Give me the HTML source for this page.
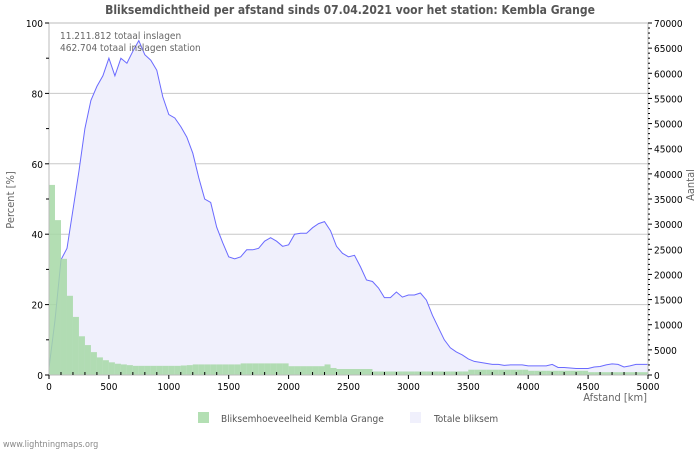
<!DOCTYPE html>
<html><head><meta charset="utf-8"><style>
body{margin:0;background:#fff;width:700px;height:450px;overflow:hidden}
svg{font-family:"DejaVu Sans Condensed","DejaVu Sans","Liberation Sans",sans-serif}
</style></head><body>
<svg id="chart" width="700" height="450" xmlns="http://www.w3.org/2000/svg">
<text x="350" y="14" text-anchor="middle" font-size="12" font-weight="bold" fill="#555">Bliksemdichtheid per afstand sinds 07.04.2021 voor het station: Kembla Grange</text>
<g id="grid"></g>
<g id="area"></g>
<g id="bars"></g>
<g id="axes"></g>
<text x="60" y="39" font-size="10" fill="#666">11.211.812 totaal inslagen</text>
<text x="60" y="51" font-size="10" fill="#666">462.704 totaal inslagen station</text>
<text x="14" y="200" font-size="11" fill="#666" text-anchor="middle" transform="rotate(-90 14 200)">Percent   [%]</text>
<text x="694" y="185" font-size="11" fill="#666" text-anchor="middle" transform="rotate(-90 694 185)">Aantal</text>
<text x="647" y="401" font-size="11" fill="#666" text-anchor="end">Afstand   [km]</text>
<rect x="198" y="412" width="11" height="11" fill="#b3dfb3"/>
<text x="221" y="422" font-size="10" fill="#555">Bliksemhoeveelheid Kembla Grange</text>
<rect x="410" y="412" width="11" height="11" fill="#f0f0fc"/>
<text x="434" y="422" font-size="10" fill="#555">Totale bliksem</text>
<text x="3" y="447" font-size="9" fill="#888">www.lightningmaps.org</text>
</svg>
<script>
const totalCounts=[1400,10900,22900,25200,32900,40600,49000,54600,57400,59500,63000,59500,63000,62000,64400,66500,63700,62600,60600,55300,51800,51100,49400,47300,44100,39200,35000,34300,29400,26300,23500,23100,23500,24900,24900,25200,26600,27300,26600,25600,25900,28000,28200,28200,29300,30100,30500,28700,25600,24200,23500,23800,21500,18900,18600,17300,15400,15400,16500,15500,15900,15900,16300,14900,11900,9400,7000,5400,4600,4000,3200,2700,2500,2300,2100,2100,1900,2000,2000,2000,1800,1800,1800,1800,2100,1500,1500,1400,1300,1300,1300,1600,1700,2000,2200,2100,1600,1800,2100,2100,2100];
const stationPct=[54,44,33,22.5,16.5,11,8.5,6.5,5,4.2,3.6,3.2,3,2.8,2.6,2.6,2.6,2.6,2.6,2.6,2.6,2.6,2.7,2.8,3,3,3,3,3,3,3,3,3.3,3.3,3.3,3.3,3.3,3.3,3.3,3.3,2.5,2.5,2.5,2.5,2.5,2.5,3,2,1.7,1.7,1.7,1.7,1.7,1.7,1,1,1,1,1,1,1,1,1,1,1,1,1,1,1,1,1.5,1.5,1.5,1.5,1.5,1.5,1.5,1.5,1.5,1.5,1.2,1.2,1.2,1.2,1.2,1.2,1.2,1.2,1.2,1.2,0.8,0.8,0.8,0.8,0.8,0.8,0.8,0.8,0.8,0.8];
const leftTicks=[0,20,40,60,80,100];
const rightTicks=[0,5000,10000,15000,20000,25000,30000,35000,40000,45000,50000,55000,60000,65000,70000];
const xTicks=[0,500,1000,1500,2000,2500,3000,3500,4000,4500,5000];
const STEP=50;
const X0=49,X1=648,Y0=375,Y1=23;
const xs=k=>X0+(k/5000)*(X1-X0);
const yl=p=>Y0-(p/100)*(Y0-Y1);
const yr=c=>Y0-(c/70000)*(Y0-Y1);
const NS="http://www.w3.org/2000/svg";
function mk(tag,at,parent){const e=document.createElementNS(NS,tag);for(const k in at)e.setAttribute(k,at[k]);parent.appendChild(e);return e;}
const grid=document.getElementById('grid'),area=document.getElementById('area'),bars=document.getElementById('bars'),axes=document.getElementById('axes');
leftTicks.forEach(t=>{if(t>0){const l=mk('line',{x1:X0,x2:X1,y1:yl(t),y2:yl(t),stroke:'#c8c8c8','stroke-width':1},grid);

}});
let d='M'+xs(0)+','+Y0;
totalCounts.forEach((c,i)=>{d+=' L'+xs(i*STEP).toFixed(1)+','+yr(c).toFixed(1);});
const fillPath=mk('path',{d:d+' L'+xs(5000)+','+Y0+' Z',fill:'#f0f0fc'},area);


let ld='';totalCounts.forEach((c,i)=>{ld+=(i?' L':'M')+xs(i*STEP).toFixed(1)+','+yr(c).toFixed(1);});
const line=mk('path',{d:ld,fill:'none',stroke:'#6a6aff','stroke-width':1},area);


stationPct.forEach((p,i)=>{const x=xs(i*STEP),w=xs((i+1)*STEP)-x;
const r=mk('rect',{x:x,y:yl(p),width:w,height:Y0-yl(p),fill:'#a6d8a6','fill-opacity':0.85},bars);

});
mk('rect',{x:X0,y:Y1,width:X1-X0,height:Y0-Y1,fill:'none',stroke:'#bbb'},axes);
leftTicks.forEach(t=>{const y=yl(t);mk('line',{x1:X0-4,x2:X0,y1:y,y2:y,stroke:'#000'},axes);
const tx=mk('text',{x:X0-6,y:y+4,'font-size':10,'text-anchor':'end',fill:'#000'},axes);tx.textContent=t;

});
for(let t=10;t<100;t+=20){mk('line',{x1:X0-3,x2:X0,y1:yl(t),y2:yl(t),stroke:'#000'},axes);}
rightTicks.forEach(t=>{const y=yr(t);mk('line',{x1:X1,x2:X1+4,y1:y,y2:y,stroke:'#000'},axes);
const tx=mk('text',{x:X1+6,y:y+4,'font-size':10,fill:'#000'},axes);tx.textContent=t;

});
for(let t=1000;t<70000;t+=1000){if(t%5000)mk('line',{x1:X1,x2:X1+2,y1:yr(t),y2:yr(t),stroke:'#000'},axes);}
xTicks.forEach(t=>{const x=xs(t);mk('line',{x1:x,x2:x,y1:Y0,y2:Y0+4,stroke:'#000'},axes);
const tx=mk('text',{x:x,y:Y0+15,'font-size':10,'text-anchor':'middle',fill:'#000'},axes);tx.textContent=t;

});
for(let t=100;t<5000;t+=100){if(t%500)mk('line',{x1:xs(t),x2:xs(t),y1:Y0-3,y2:Y0,stroke:'#000'},axes);}
</script>
</body></html>
